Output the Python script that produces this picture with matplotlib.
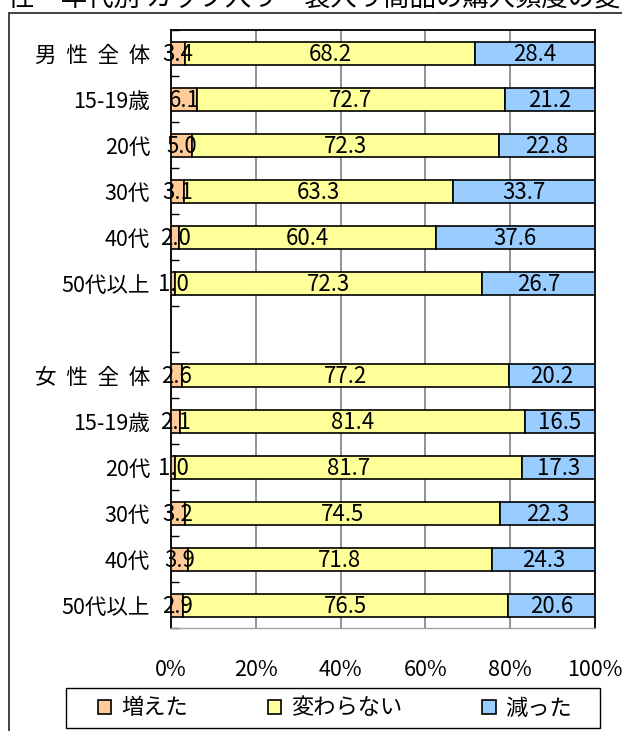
import matplotlib
matplotlib.use("Agg")
import matplotlib.pyplot as plt
from matplotlib.patches import Patch, Rectangle
import numpy as np

# ---- data ----
categories = ["男  性  全  体", "15-19歳", "20代", "30代", "40代", "50代以上", "",
              "女  性  全  体", "15-19歳", "20代", "30代", "40代", "50代以上"]
increased = [3.4, 6.1, 5.0, 3.1, 2.0, 1.0, None, 2.6, 2.1, 1.0, 3.2, 3.9, 2.9]
unchanged = [68.2, 72.7, 72.3, 63.3, 60.4, 72.3, None, 77.2, 81.4, 81.7, 74.5, 71.8, 76.5]
decreased = [28.4, 21.2, 22.8, 33.7, 37.6, 26.7, None, 20.2, 16.5, 17.3, 22.3, 24.3, 20.6]
series_names = ["増えた", "変わらない", "減った"]
series_colors = ["#FFCC99", "#FFFF99", "#99CCFF"]
x_ticks = [0, 20, 40, 60, 80, 100]
x_tick_labels = ["0%", "20%", "40%", "60%", "80%", "100%"]
title = "性・年代別 カップ入り・袋入り商品の購入頻度の変化"

W, H = 622, 731
plt.rcParams["font.family"] = ["Noto Sans CJK JP", "DejaVu Sans"]
num_font = ["Liberation Sans Narrow", "Noto Sans CJK JP"]

fig = plt.figure(figsize=(W / 100, H / 100), dpi=100)

# outer chart frame (runs off the right and bottom edges)
fig.patches.append(Rectangle((9 / W, -0.1), 2.0, (H - 13) / H + 0.1,
                             transform=fig.transFigure, fill=False,
                             edgecolor="#333333", linewidth=1.3, zorder=0))

# title, partly clipped by the top edge
fig.text(8 / W, 1 - 12 / H, title, fontsize=19, ha="left", va="bottom")

left, right, top, bottom = 171, 595, 30, 628
ax = fig.add_axes([left / W, 1 - bottom / H, (right - left) / W, (bottom - top) / H])

pos = np.arange(len(categories))
series = [increased, unchanged, decreased]
starts = np.zeros(len(categories))
for vals, name, color in zip(series, series_names, series_colors):
    idx = [i for i, v in enumerate(vals) if v is not None]
    v = np.array([vals[i] for i in idx])
    s = starts[idx]
    ax.barh(pos[idx], v, left=s, height=0.5, color=color, edgecolor="black",
            linewidth=1.2, zorder=3, label=name)
    for p, val, st in zip(pos[idx], v, s):
        ax.annotate(f"{val:.1f}", (st + val / 2, p), xytext=(0, -1),
                    textcoords="offset points", ha="center", va="center",
                    fontsize=16, family=num_font, zorder=4)
    starts[idx] += v

ax.set_xlim(0, 100)
ax.set_ylim(len(categories) - 0.5, -0.5)

ax.set_xticks(x_ticks)
ax.set_xticklabels(x_tick_labels, family=num_font, fontsize=15.5)
ax.tick_params(axis="x", length=0, pad=22)
ax.xaxis.grid(True, color="#808080", linewidth=1.2, zorder=1)

ax.set_yticks(pos)
ax.set_yticklabels(categories, fontsize=15.5)
ax.tick_params(axis="y", which="major", length=0, pad=15)
ax.set_yticks(np.arange(-0.5, len(categories), 1.0), minor=True)
ax.tick_params(axis="y", which="minor", direction="in", length=6, width=1.0,
               color="black")

for side in ["left", "top", "right"]:
    ax.spines[side].set_color("black")
    ax.spines[side].set_linewidth(1.3)
ax.spines["bottom"].set_color("#a0a0a0")
ax.spines["bottom"].set_linewidth(1.0)
ax.set_axisbelow(True)

# legend entries, with a separate wider box drawn around them
handles = [Patch(facecolor=c, edgecolor="black", linewidth=1.2) for c in series_colors]
leg = fig.legend(handles, series_names, loc="center",
                 bbox_to_anchor=(335 / W, 1 - 708 / H), ncol=3, fontsize=16,
                 frameon=False, handlelength=0.6, handleheight=0.6,
                 handletextpad=0.45, columnspacing=3.6, borderpad=0.35,
                 borderaxespad=0)
fig.patches.append(Rectangle((66 / W, 1 - 728 / H), (600 - 66) / W, 40 / H,
                             transform=fig.transFigure, fill=True,
                             facecolor="white", edgecolor="black",
                             linewidth=1.0, zorder=1))

fig.savefig("out.png", dpi=100)
